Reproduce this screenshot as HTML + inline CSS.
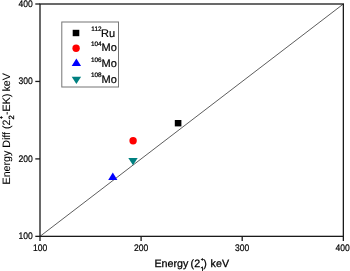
<!DOCTYPE html>
<html>
<head>
<meta charset="utf-8">
<title>Energy plot</title>
<style>
html,body{margin:0;padding:0;background:#fff;}
body{width:350px;height:271px;overflow:hidden;}
svg{display:block;will-change:transform;}
text{font-family:"Liberation Sans",sans-serif;fill:#000;text-rendering:geometricPrecision;}
.tk{font-size:9.5px;stroke:#000;stroke-width:0.2px;}
.ax{font-size:10.7px;stroke:#000;stroke-width:0.25px;}
.lg{font-size:11px;stroke:#000;stroke-width:0.2px;}
.ay{stroke-width:0.08px;}
.sm{font-size:6.4px;stroke:#000;stroke-width:0.22px;}
.sb{font-size:7.6px;stroke-width:0.3px;}
.sp{font-size:5.4px;stroke-width:0.3px;}
</style>
</head>
<body>
<svg width="350" height="271" viewBox="0 0 350 271">
<rect width="350" height="271" fill="#fff"/>
<!-- diagonal -->
<line x1="40" y1="236.35" x2="343.35" y2="4" stroke="#333" stroke-width="0.8"/>
<!-- frame -->
<rect x="40" y="4" width="303.35" height="232.35" fill="none" stroke="#1a1a1a" stroke-width="1.3"/>
<!-- ticks -->
<g stroke="#1a1a1a" stroke-width="1.3">
<line x1="35.3" y1="4" x2="40" y2="4"/>
<line x1="35.3" y1="81.45" x2="40" y2="81.45"/>
<line x1="35.3" y1="158.9" x2="40" y2="158.9"/>
<line x1="35.3" y1="236.35" x2="40" y2="236.35"/>
<line x1="40" y1="236.35" x2="40" y2="241.1"/>
<line x1="141.1" y1="236.35" x2="141.1" y2="241.1"/>
<line x1="242.2" y1="236.35" x2="242.2" y2="241.1"/>
<line x1="343.35" y1="236.35" x2="343.35" y2="241.1"/>
</g>
<!-- tick labels -->
<g class="tk" text-anchor="end">
<text transform="translate(32.7,6.5) scale(0.9,1)">400</text>
<text transform="translate(32.7,84.1) scale(0.9,1)">300</text>
<text transform="translate(32.7,161.5) scale(0.9,1)">200</text>
<text transform="translate(32.7,239) scale(0.9,1)">100</text>
</g>
<g class="tk" text-anchor="middle">
<text transform="translate(40.2,250.8) scale(0.9,1)">100</text>
<text transform="translate(141.2,250.8) scale(0.9,1)">200</text>
<text transform="translate(242.2,250.8) scale(0.9,1)">300</text>
<text transform="translate(342.7,250.8) scale(0.9,1)">400</text>
</g>
<!-- x label -->
<g class="ax">
<text x="154.4" y="266.5">Energy</text>
<text x="190.6" y="266.5">(2</text>
<text class="sb" x="200.2" y="271.8">1</text>
<text class="sp" x="200.7" y="260.5" style="font-size:5px">+</text>
<text x="203.3" y="266.5">)</text>
<text x="210.6" y="266.5">keV</text>
</g>
<!-- y label -->
<g class="ax ay" transform="translate(9.9,184.4) rotate(-90)">
<text x="0" y="0" style="font-size:10.65px">Energy Diff (2</text>
<text class="sb" x="64.9" y="4.5">2</text>
<text class="sp" x="65.4" y="-6.85">+</text>
<text x="69.4" y="0">-EK)</text>
<text x="92.8" y="0">keV</text>
</g>
<!-- legend -->
<rect x="61.8" y="22" width="56.7" height="65" fill="#fff" stroke="#757575" stroke-width="1"/>
<rect x="72.7" y="29.8" width="6.6" height="6.4" fill="#000"/>
<circle cx="76.1" cy="48.2" r="3.7" fill="#f00"/>
<polygon points="76.4,58.6 81.1,66 71.7,66" fill="#00f"/>
<polygon points="71.7,76.8 81.1,76.8 76.4,84.1" fill="#008080"/>
<g class="lg">
<text x="101" y="36.6">Ru</text>
<text x="101.6" y="51.4">Mo</text>
<text x="101.6" y="67.1">Mo</text>
<text x="101.6" y="82.6">Mo</text>
</g>
<g class="sm" text-anchor="end">
<text x="101.5" y="30.8">112</text>
<text x="101.7" y="46.2">104</text>
<text x="101.7" y="61.5">106</text>
<text x="101.7" y="77">108</text>
</g>
<!-- data -->
<rect x="174.8" y="120" width="6.6" height="6.4" fill="#000"/>
<circle cx="133.1" cy="140.7" r="3.7" fill="#f00"/>
<polygon points="112.8,172.6 117.4,179.9 108.2,179.9" fill="#00f"/>
<polygon points="128.3,158 137.7,158 133,165.2" fill="#008080"/>
</svg>
</body>
</html>
